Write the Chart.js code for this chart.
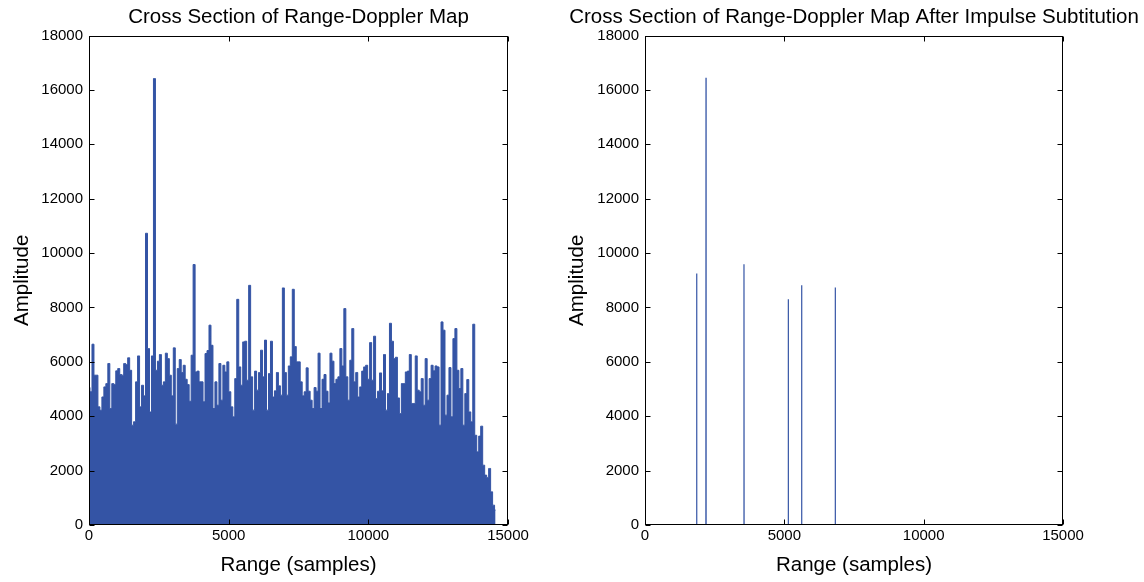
<!DOCTYPE html>
<html><head><meta charset="utf-8">
<script src="https://cdn.jsdelivr.net/npm/chart.js@4/dist/chart.umd.min.js"></script>
<style>
html,body{margin:0;padding:0;background:#fff;width:1144px;height:582px;overflow:hidden;}
#c1{position:absolute;left:0;top:0;}
#c2{position:absolute;left:564px;top:0;}
</style></head><body>
<canvas id="c1" width="597" height="582"></canvas>
<canvas id="c2" width="580" height="582"></canvas>
<script>
// ---- data ----
const leftTitle = 'Cross Section of Range-Doppler Map';
const rightTitle = 'Cross Section of Range-Doppler Map After Impulse Subtitution';
const xLabel = 'Range (samples)';
const yLabel = 'Amplitude';
const xTicks = [0, 5000, 10000, 15000];
const yTicks = [0, 2000, 4000, 6000, 8000, 10000, 12000, 14000, 16000, 18000];

// left panel: upper envelope of the dense signal, one value per ~71 samples
const leftStep = 71;
const leftAmplitude = [
  5060, 4900, 6650, 5510, 5510, 4345, 4220, 4710, 5080, 5200,
  5940, 4285, 5200, 5170, 5670, 5755, 5535, 5510, 5940, 5900,
  6150, 5690, 3670, 3800, 5265, 6220, 4345, 5140, 4750, 10730,
  6490, 4160, 6220, 16420, 5690, 6025, 6270, 5140, 5265, 6320,
  6120, 5510, 4750, 6515, 3710, 5755, 6085, 5610, 5875, 5360,
  5165, 4550, 6245,
  9580, 5630, 5660, 5265, 5265, 4530, 6305, 6415, 7350, 6610,
  4285, 5265, 4405, 5940, 4590, 5875, 5630, 6000, 4900, 4345,
  3980, 5385, 8300, 5815, 5140, 6735, 6760, 5325, 8815, 5450,
  4225, 5660, 4960, 5610, 6430, 5450, 6800, 4225, 5570, 6760,
  4710, 4935, 5610, 5120, 4775, 8720, 5610, 4775, 5850, 6185,
  8670, 6565, 6000,
  6000, 5265, 4750, 4900, 5780, 4920, 4590, 4285, 5055, 4920,
  6320, 4285, 5360, 5535, 4920, 4490, 6320, 6025, 5200, 5360,
  5450, 6490, 5850, 7960, 5450, 4590, 6060, 7225, 5265, 5610,
  4710, 5080, 5660, 5815, 5875, 5360, 6710, 5325, 6945, 4650,
  4920, 5595, 4935, 6270, 4225, 4835, 7420, 6760, 6120, 6170,
  4675, 4100, 5200,
  5200, 5630, 5660, 6270, 4470, 4470, 6220, 4960, 4900, 5385,
  4405, 6120, 4590, 5385, 5875, 5670, 5850, 5815, 3670, 7470,
  7165, 4040, 4775, 5790, 3980, 6855, 7225, 5690, 5020, 5755,
  3670, 4835, 5350, 4160, 3795, 7385, 3300, 2690, 3270, 3635,
  2200, 1835, 1750, 2080, 1220, 730, 550
];

// right panel: remaining impulses
const rightSpikeRange = [1855, 2189, 3552, 5142, 5622, 6828];
const rightSpikeAmplitude = [9246, 16447, 9588, 8303, 8817, 8732];
const rightEndRange = 14555;

// ---- styling ----
const FONT = '"Liberation Sans", Arial, Helvetica, sans-serif';
const BLUE = '#3454a5';

const boxTicks = {
  id: 'boxTicks',
  afterDraw(chart) {
    const {ctx, chartArea: a} = chart;
    const xs = chart.scales.x, ys = chart.scales.y;
    const L = Math.round(a.left) + 0.5, R = Math.round(a.right) - 0.5;
    const T = Math.round(a.top) + 0.5, B = Math.round(a.bottom) - 0.5;
    ctx.save();
    ctx.strokeStyle = '#000';
    ctx.lineWidth = 1;
    ctx.strokeRect(L, T, R - L, B - T);
    ctx.beginPath();
    xTicks.forEach(v => {
      const p = Math.round(xs.getPixelForValue(v)) + 0.5;
      ctx.moveTo(p, B); ctx.lineTo(p, B - 5);
      ctx.moveTo(p, T); ctx.lineTo(p, T + 5);
    });
    yTicks.forEach(v => {
      const p = Math.round(ys.getPixelForValue(v)) + 0.5;
      ctx.moveTo(L, p); ctx.lineTo(L + 5, p);
      ctx.moveTo(R, p); ctx.lineTo(R - 5, p);
    });
    ctx.stroke();
    ctx.restore();
  }
};

function makeOptions(title, yAxisWidth, rightSpace, yTitlePad) {
  return {
    responsive: false,
    animation: false,
    devicePixelRatio: 1,
    layout: { padding: 0 },
    plugins: {
      legend: { display: false },
      tooltip: { enabled: false },
      title: {
        display: true, text: title, color: '#000',
        font: { family: FONT, size: 20.5, weight: 'normal' },
        padding: { top: 5, bottom: 6 }
      }
    },
    scales: {
      x: {
        type: 'linear', min: 0, max: 15000,
        afterBuildTicks: s => { s.ticks = xTicks.map(v => ({ value: v })); },
        grid: { display: false, drawTicks: false },
        border: { display: false },
        ticks: { color: '#000', font: { family: FONT, size: 15 }, padding: 2, maxRotation: 0, autoSkip: false, callback: v => String(v) },
        title: { display: true, text: xLabel, color: '#000', font: { family: FONT, size: 20.5 }, padding: { top: 0, bottom: 4 } },
        afterFit: s => { s.height = 57; }
      },
      y: {
        type: 'linear', min: 0, max: 18000,
        afterBuildTicks: s => { s.ticks = yTicks.map(v => ({ value: v })); },
        grid: { display: false, drawTicks: false },
        border: { display: false },
        ticks: { color: '#000', font: { family: FONT, size: 15 }, padding: 6, autoSkip: false, callback: v => String(v) },
        title: { display: true, text: yLabel, color: '#000', font: { family: FONT, size: 20.5 }, padding: { top: yTitlePad, bottom: 0 } },
        afterFit: s => { s.width = yAxisWidth; }
      },
      spacer: {
        type: 'linear', position: 'right', min: 0, max: 1, display: true,
        grid: { display: false, drawTicks: false },
        border: { display: false },
        ticks: { display: false },
        afterFit: s => { s.width = rightSpace; }
      }
    }
  };
}

const leftPoints = leftAmplitude.map((a, i) => ({ x: i * leftStep, y: a }));

const rightPoints = [{ x: 0, y: 0 }];
rightSpikeRange.forEach((r, i) => {
  rightPoints.push({ x: r - 4, y: 0 }, { x: r, y: rightSpikeAmplitude[i] }, { x: r + 4, y: 0 });
});
rightPoints.push({ x: rightEndRange, y: 0 });

new Chart(document.getElementById('c1'), {
  type: 'line',
  data: { datasets: [{
    data: leftPoints, borderColor: BLUE, backgroundColor: BLUE,
    borderWidth: 1, pointRadius: 0, fill: 'origin', stepped: 'middle'
  }] },
  options: makeOptions(leftTitle, 89, 89, 10),
  plugins: [boxTicks]
});

new Chart(document.getElementById('c2'), {
  type: 'line',
  data: { datasets: [{
    data: rightPoints, borderColor: BLUE, borderWidth: 1.2,
    pointRadius: 0, fill: false, tension: 0
  }] },
  options: makeOptions(rightTitle, 81, 81, 1),
  plugins: [boxTicks]
});
</script>
</body></html>
